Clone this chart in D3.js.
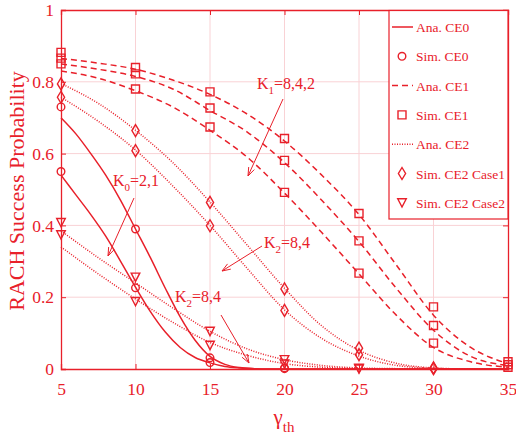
<!DOCTYPE html>
<html><head><meta charset="utf-8">
<script src="https://cdn.jsdelivr.net/npm/d3@7"></script>
<style>body{margin:0;background:#fff}</style>
</head><body>
<svg id="c" width="516" height="439"></svg>
<script>
// ---- data ----
const xTicks = [5, 10, 15, 20, 25, 30, 35];
const yTicks = [0, 0.2, 0.4, 0.6, 0.8, 1];
const yTickLabels = ["0", "0.2", "0.4", "0.6", "0.8", "1"];

// analytical CE0 (fine grid)
const gammaCE0 = [5, 6, 7, 8, 9, 10, 11, 12, 13, 14, 15, 16, 17, 18, 19, 20, 25, 30, 35];
const ce0AnaK2 = [0.70, 0.655, 0.60, 0.54, 0.47, 0.39, 0.31, 0.225, 0.145, 0.08, 0.035, 0.013, 0.004, 0.001, 0, 0, 0, 0, 0];
const ce0AnaK1 = [0.54, 0.485, 0.43, 0.37, 0.30, 0.228, 0.16, 0.103, 0.06, 0.032, 0.017, 0.007, 0.003, 0.001, 0, 0, 0, 0, 0];

// analytical CE1 / CE2
const gammaAna = [5, 7.5, 10, 12.5, 15, 17.5, 20, 22.5, 25, 27.5, 30, 32.5, 35];
const ce1AnaK8 = [0.865, 0.852, 0.835, 0.805, 0.765, 0.71, 0.635, 0.54, 0.43, 0.29, 0.15, 0.06, 0.015];
const ce1AnaK4 = [0.85, 0.835, 0.815, 0.78, 0.72, 0.66, 0.575, 0.47, 0.355, 0.225, 0.108, 0.035, 0.01];
const ce1AnaK2 = [0.83, 0.81, 0.775, 0.73, 0.665, 0.59, 0.49, 0.38, 0.265, 0.15, 0.06, 0.02, 0.005];
const ce2Case1K8 = [0.795, 0.74, 0.665, 0.575, 0.465, 0.345, 0.225, 0.12, 0.052, 0.016, 0.003, 0, 0];
const ce2Case1K4 = [0.757, 0.69, 0.61, 0.51, 0.40, 0.28, 0.165, 0.085, 0.036, 0.01, 0.002, 0, 0];
const ce2Case2K8 = [0.385, 0.31, 0.24, 0.17, 0.105, 0.056, 0.026, 0.01, 0.003, 0.001, 0, 0, 0];
const ce2Case2K4 = [0.34, 0.265, 0.195, 0.13, 0.074, 0.038, 0.015, 0.005, 0.001, 0, 0, 0, 0];

// simulation points
const gammaSim = [5, 10, 15, 20, 25, 30, 35];
const simCE0K2 = [0.73, 0.39, 0.031, 0.003, null, null, null];
const simCE0K1 = [0.55, 0.226, 0.018, 0.001, null, null, null];
const simCE1K8 = [0.882, 0.840, 0.772, 0.642, 0.433, 0.173, 0.02];
const simCE1K4 = [0.866, 0.822, 0.727, 0.581, 0.357, 0.121, 0.012];
const simCE1K2 = [0.850, 0.780, 0.674, 0.492, 0.267, 0.072, 0.005];
const simCE2C1K8 = [0.794, 0.664, 0.464, 0.223, 0.058, 0.003, null];
const simCE2C1K4 = [0.757, 0.608, 0.399, 0.163, 0.040, 0.001, null];
const simCE2C2K8 = [0.408, 0.256, 0.105, 0.026, 0.002, null, null];
const simCE2C2K4 = [0.374, 0.188, 0.066, 0.014, 0.0, null, null];

const legendLabels = ["Ana. CE0", "Sim. CE0", "Ana. CE1", "Sim. CE1", "Ana. CE2", "Sim. CE2 Case1", "Sim. CE2 Case2"];

// ---- drawing ----
const RED = "#e8202a";
const GRID = "#f9d2d5";
const FONT = "'Liberation Serif', 'Times New Roman', serif";
const svg = d3.select("#c");
const x = d3.scaleLinear().domain([5, 35]).range([61, 508]);
const y = d3.scaleLinear().domain([0, 1]).range([369, 10]);

// grid
svg.append("g").selectAll("line").data(xTicks.slice(1, -1)).join("line")
  .attr("x1", d => x(d)).attr("x2", d => x(d)).attr("y1", y(0)).attr("y2", y(1))
  .attr("stroke", GRID).attr("stroke-width", 1);
svg.append("g").selectAll("line").data(yTicks.slice(1, -1)).join("line")
  .attr("y1", d => y(d)).attr("y2", d => y(d)).attr("x1", x(5)).attr("x2", x(35))
  .attr("stroke", GRID).attr("stroke-width", 1);

// axes
const axB = d3.axisBottom(x).tickValues(xTicks).tickSize(-5).tickPadding(14).tickFormat(d3.format("d"));
const axL = d3.axisLeft(y).tickValues(yTicks).tickSize(-5).tickPadding(7).tickFormat((d, i) => yTickLabels[i]);
const axT = d3.axisTop(x).tickValues(xTicks).tickSize(-5).tickFormat("");
const axR = d3.axisRight(y).tickValues(yTicks).tickSize(-5).tickFormat("");
function style(g) {
  g.select(".domain").attr("stroke", RED).attr("stroke-width", 1.3);
  g.selectAll(".tick line").attr("stroke", RED).attr("stroke-width", 1);
  g.selectAll(".tick text").attr("fill", RED).attr("font-family", FONT).attr("font-size", 17.5);
}
svg.append("g").attr("transform", `translate(0,${y(0)})`).call(axB).call(style);
svg.append("g").attr("transform", `translate(${x(5)},0)`).call(axL).call(style);
svg.append("g").attr("transform", `translate(0,${y(1)})`).call(axT).call(style);
svg.append("g").attr("transform", `translate(${x(35)},0)`).call(axR).call(style);

// lines
const line = d3.line().defined(d => d[1] != null).x(d => x(d[0])).y(d => y(d[1])).curve(d3.curveMonotoneX);
const zip = (xs, ys) => xs.map((v, i) => [v, ys[i]]);
const anaSeries = [
  {xs: gammaCE0, ys: ce0AnaK2, dash: null},
  {xs: gammaCE0, ys: ce0AnaK1, dash: null},
  {xs: gammaAna, ys: ce1AnaK8, dash: "6,4"},
  {xs: gammaAna, ys: ce1AnaK4, dash: "6,4"},
  {xs: gammaAna, ys: ce1AnaK2, dash: "6,4"},
  {xs: gammaAna, ys: ce2Case1K8, dash: "1,1.5"},
  {xs: gammaAna, ys: ce2Case1K4, dash: "1,1.5"},
  {xs: gammaAna, ys: ce2Case2K8, dash: "1,1.5"},
  {xs: gammaAna, ys: ce2Case2K4, dash: "1,1.5"}
];
svg.append("g").selectAll("path").data(anaSeries).join("path")
  .attr("d", s => line(zip(s.xs, s.ys)))
  .attr("fill", "none").attr("stroke", RED).attr("stroke-width", 1.5)
  .attr("stroke-dasharray", s => s.dash);

// markers
const shapes = {
  circle: "M3.8,0A3.8,3.8,0,1,1,-3.8,0A3.8,3.8,0,1,1,3.8,0Z",
  square: "M-4,-4H4V4H-4Z",
  diamond: "M0,-6L3.6,0L0,6L-3.6,0Z",
  tri: "M-4.3,-4L4.3,-4L0,4.3Z"
};
const simSeries = [
  {ys: simCE0K2, s: "circle"}, {ys: simCE0K1, s: "circle"},
  {ys: simCE1K8, s: "square"}, {ys: simCE1K4, s: "square"}, {ys: simCE1K2, s: "square"},
  {ys: simCE2C1K8, s: "diamond"}, {ys: simCE2C1K4, s: "diamond"},
  {ys: simCE2C2K8, s: "tri"}, {ys: simCE2C2K4, s: "tri"}
];
const pts = [];
simSeries.forEach(s => gammaSim.forEach((g, i) => { if (s.ys[i] != null) pts.push({g, v: s.ys[i], s: s.s}); }));
svg.append("g").selectAll("path").data(pts).join("path")
  .attr("transform", d => `translate(${x(d.g)},${y(d.v)})`)
  .attr("d", d => shapes[d.s]).attr("fill", "none").attr("stroke", RED).attr("stroke-width", 1.4);

// annotations
function ann(tx, ty, sub, rest, ax1, ay1, ax2, ay2) {
  const t = svg.append("text").attr("x", tx).attr("y", ty).attr("fill", RED)
    .attr("font-family", FONT).attr("font-size", 16);
  t.append("tspan").text("K");
  t.append("tspan").attr("font-size", 11).attr("dy", 5).text(sub);
  t.append("tspan").attr("dy", -5).text(rest);
  svg.append("line").attr("x1", ax1).attr("y1", ay1).attr("x2", ax2).attr("y2", ay2)
    .attr("stroke", RED).attr("stroke-width", 1);
  const ang = Math.atan2(ay2 - ay1, ax2 - ax1);
  const L = 9, W = 0.35;
  const p1 = [ax2 - L * Math.cos(ang - W), ay2 - L * Math.sin(ang - W)];
  const p2 = [ax2 - L * Math.cos(ang + W), ay2 - L * Math.sin(ang + W)];
  svg.append("path").attr("d", `M${p1}L${ax2},${ay2}L${p2}`).attr("fill", "none")
    .attr("stroke", RED).attr("stroke-width", 1);
}
ann(257, 89, "1", "=8,4,2", 283, 99, 248, 176);
ann(113, 186, "0", "=2,1", 134, 198, 108, 256);
ann(264, 248, "2", "=8,4", 262, 246, 222, 271);
ann(175, 302, "2", "=8,4", 221, 315, 249, 363);

// legend
const lg = svg.append("g");
lg.append("rect").attr("x", 389).attr("y", 10.5).attr("width", 119).attr("height", 208.5)
  .attr("fill", "#fff").attr("stroke", RED).attr("stroke-width", 1.2);
const legendKinds = [
  {t: "line", dash: null}, {t: "circle"}, {t: "line", dash: "6,4"}, {t: "square"},
  {t: "line", dash: "1,1.5"}, {t: "diamond"}, {t: "tri"}
];
legendLabels.forEach((lab, i) => {
  const ly = 27 + i * 29.3;
  const k = legendKinds[i];
  if (k.t === "line") {
    lg.append("line").attr("x1", 392).attr("x2", 413).attr("y1", ly).attr("y2", ly)
      .attr("stroke", RED).attr("stroke-width", 1.5).attr("stroke-dasharray", k.dash);
  } else {
    lg.append("path").attr("transform", `translate(402,${ly})`).attr("d", shapes[k.t])
      .attr("fill", "none").attr("stroke", RED).attr("stroke-width", 1.4);
  }
  lg.append("text").attr("x", 416).attr("y", ly + 5).attr("fill", RED)
    .attr("font-family", FONT).attr("font-size", 13.5).text(lab);
});

// axis labels
svg.append("text").attr("transform", `translate(24,191) rotate(-90)`).attr("text-anchor", "middle")
  .attr("fill", RED).attr("font-family", FONT).attr("font-size", 22).text("RACH Success Probability");
const xl = svg.append("text").attr("x", 284).attr("y", 424).attr("text-anchor", "middle")
  .attr("fill", RED).attr("font-family", FONT).attr("font-size", 21);
xl.append("tspan").text("γ");
xl.append("tspan").attr("font-size", 15).attr("dy", 8).text("th");
</script>
</body></html>
